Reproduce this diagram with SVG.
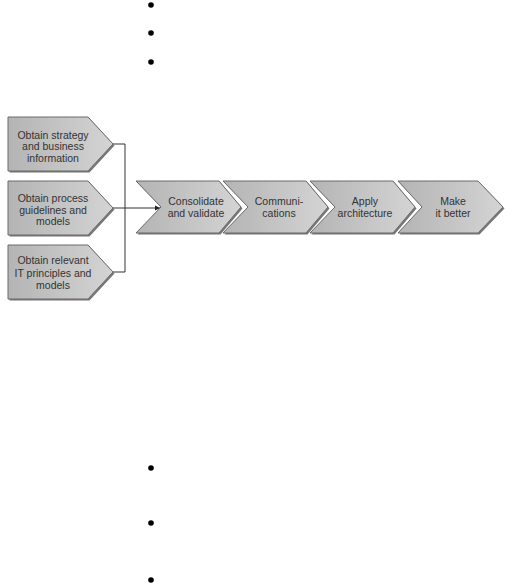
<svg xmlns="http://www.w3.org/2000/svg" width="510" height="584" viewBox="0 0 510 584">
<defs>
<linearGradient id="g" x1="0" y1="0" x2="1" y2="0">
<stop offset="0" stop-color="#b4b4b4"/>
<stop offset="1" stop-color="#d4d4d4"/>
</linearGradient>
<marker id="ah" markerWidth="6" markerHeight="6" refX="5" refY="3" orient="auto" markerUnits="userSpaceOnUse">
<path d="M0,0.5 L5,3 L0,5.5 Z" fill="#222"/>
</marker>
<style>
.sh{fill:#777;}
.bx{fill:url(#g);stroke:#6a6a6a;stroke-width:1;}
.t{font-family:"Liberation Sans",Arial,sans-serif;font-size:10.5px;fill:#333;text-anchor:middle;}
.ln{stroke:#333;stroke-width:1;fill:none;}
.bu{fill:#000;}
</style>
</defs>
<rect width="510" height="584" fill="#fff"/>
<g id="bullets-top">
<circle class="bu" cx="151" cy="5" r="2.8"/>
<circle class="bu" cx="151" cy="33" r="2.8"/>
<circle class="bu" cx="151" cy="62" r="2.8"/>
</g>
<g id="bullets-bottom">
<circle class="bu" cx="151" cy="468" r="2.8"/>
<circle class="bu" cx="151" cy="523" r="2.8"/>
<circle class="bu" cx="151" cy="580" r="2.8"/>
</g>
<g id="connectors">
<path class="ln" d="M113,144 H125 V272 H113"/>
<path class="ln" d="M113,208 H160" marker-end="url(#ah)"/>
</g>
<g id="obtain-strategy">
<path class="sh" d="M9.5,118.5 H89.5 L114.5,145.5 L89.5,172.5 H9.5 Z"/>
<path class="bx" d="M8,117 H88 L113,144 L88,171 H8 Z"/>
<text class="t" x="53" y="139">Obtain strategy</text>
<text class="t" x="53" y="150">and business</text>
<text class="t" x="53" y="162">information</text>
</g>
<g id="obtain-process">
<path class="sh" d="M9.5,182.5 H89.5 L114.5,209.5 L89.5,236.5 H9.5 Z"/>
<path class="bx" d="M8,181 H88 L113,208 L88,235 H8 Z"/>
<text class="t" x="53" y="202">Obtain process</text>
<text class="t" x="53" y="214">guidelines and</text>
<text class="t" x="53" y="225">models</text>
</g>
<g id="obtain-it">
<path class="sh" d="M9.5,246.5 H89.5 L114.5,273.5 L89.5,300.5 H9.5 Z"/>
<path class="bx" d="M8,245 H88 L113,272 L88,299 H8 Z"/>
<text class="t" x="53" y="264">Obtain relevant</text>
<text class="t" x="53" y="277">IT principles and</text>
<text class="t" x="53" y="289">models</text>
</g>
<g id="consolidate">
<path class="sh" d="M137.5,182.5 H220.5 L242.5,208.5 L220.5,234.5 H137.5 L162.5,208.5 Z"/>
<path class="bx" d="M136,181 H219 L241,207 L219,233 H136 L161,207 Z"/>
<text class="t" x="196" y="205">Consolidate</text>
<text class="t" x="196" y="217">and validate</text>
</g>
<g id="communications">
<path class="sh" d="M224.5,182.5 H307.5 L329.5,208.5 L307.5,234.5 H224.5 L249.5,208.5 Z"/>
<path class="bx" d="M223,181 H306 L328,207 L306,233 H223 L248,207 Z"/>
<text class="t" x="279" y="205">Communi-</text>
<text class="t" x="279" y="217">cations</text>
</g>
<g id="apply">
<path class="sh" d="M311.5,182.5 H394.5 L416.5,208.5 L394.5,234.5 H311.5 L336.5,208.5 Z"/>
<path class="bx" d="M310,181 H393 L415,207 L393,233 H310 L335,207 Z"/>
<text class="t" x="365" y="205">Apply</text>
<text class="t" x="365" y="217">architecture</text>
</g>
<g id="make-better">
<path class="sh" d="M399.5,182.5 H479.5 L504.5,208.5 L479.5,234.5 H399.5 L423.5,208.5 Z"/>
<path class="bx" d="M398,181 H478 L503,207 L478,233 H398 L422,207 Z"/>
<text class="t" x="453" y="205">Make</text>
<text class="t" x="453" y="217">it better</text>
</g>
</svg>
